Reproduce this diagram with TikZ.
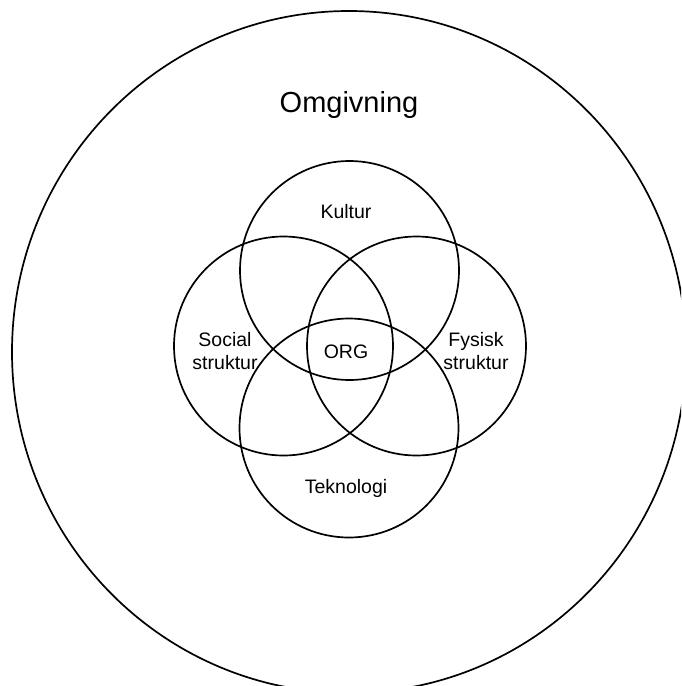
\documentclass[tikz,border=0pt]{standalone}
\usepackage{fontspec}
\setmainfont{Liberation Sans}
\begin{document}
\begin{tikzpicture}[x=1pt,y=-1pt,
  ring/.style={circle, draw, line width=1.7pt, minimum size=219pt, inner sep=0pt},
  lbl/.style={font=\fontsize{19.5}{23}\selectfont, align=center, inner sep=0pt},
  biglbl/.style={font=\fontsize{29}{34}\selectfont, inner sep=0pt}]
  \useasboundingbox (0,0) rectangle (681,686);
  \clip (0,0) rectangle (681,686);
  % environment
  \draw[line width=1.7pt] (349,352) ellipse [x radius=337, y radius=341];
  \node[biglbl] (omg) at (349,105) {Omgivning};
  % the four overlapping domains
  \node[ring] (kultur) at (349.5,270.5) {};
  \node[ring] (social) at (283.5,346) {};
  \node[ring] (fysisk) at (416.5,346) {};
  \node[ring] (tekno) at (349,428) {};
  % labels
  \node[lbl] (tk) at (346,212) {Kultur};
  \node[lbl] (ts) at (225,351.5) {Social\\struktur};
  \node[lbl] (tf) at (476,351.5) {Fysisk\\struktur};
  \node[lbl] (tt) at (346,488) {Teknologi};
  \node[lbl] (torg) at (346,352) {ORG};
\end{tikzpicture}
\end{document}
